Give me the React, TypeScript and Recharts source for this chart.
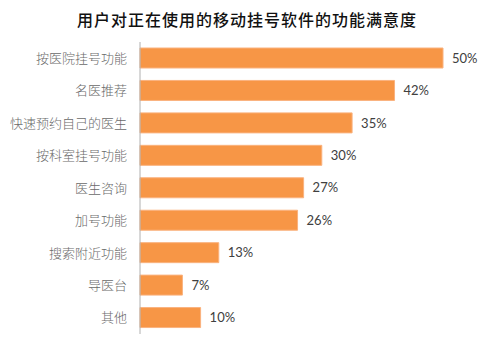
import React from "react";
import { BarChart, Bar, XAxis, YAxis, LabelList } from "recharts";

const categories = [
  "按医院挂号功能",
  "名医推荐",
  "快速预约自己的医生",
  "按科室挂号功能",
  "医生咨询",
  "加号功能",
  "搜索附近功能",
  "导医台",
  "其他",
];
const values = [50, 42, 35, 30, 27, 26, 13, 7, 10];
const title = "用户对正在使用的移动挂号软件的功能满意度";

const data = categories.map((name, i) => ({ name, value: values[i] }));

export default function App() {
  return (
    <div style={{ position: "absolute", left: 0, top: 0, width: 494, height: 354, background: "#fff" }}>
      <div
        style={{
          position: "absolute",
          left: 0,
          top: 8,
          width: 494,
          textAlign: "center",
          fontFamily: "'Noto Sans CJK SC', sans-serif",
          fontSize: 16,
          fontWeight: 500,
          letterSpacing: 1,
          color: "#111",
          lineHeight: "22px",
        }}
      >
        {title}
      </div>
      <BarChart
        width={494}
        height={354}
        data={data}
        layout="vertical"
        margin={{ top: 42, right: 51, bottom: 20, left: 0 }}
      >
        <XAxis type="number" domain={[0, 50]} hide />
        <YAxis
          type="category"
          dataKey="name"
          width={140}
          tickLine={false}
          tickSize={0}
          tickMargin={13}
          axisLine={{ stroke: "#b0b0b0", strokeWidth: 1 }}
          tick={{ fill: "#6a6a6a", fontSize: 13, fontWeight: 300, fontFamily: "'Noto Sans CJK SC', sans-serif" }}
          interval={0}
        />
        <Bar dataKey="value" fill="#F79646" stroke="#FAB27E" strokeWidth={1} barSize={20} isAnimationActive={false}>
          <LabelList
            dataKey="value"
            position="right"
            offset={9}
            formatter={(v: number) => `${v}%`}
            style={{ fill: "#404040", fontSize: 13, fontFamily: "Lato, 'Open Sans', sans-serif" }}
          />
        </Bar>
      </BarChart>
    </div>
  );
}
